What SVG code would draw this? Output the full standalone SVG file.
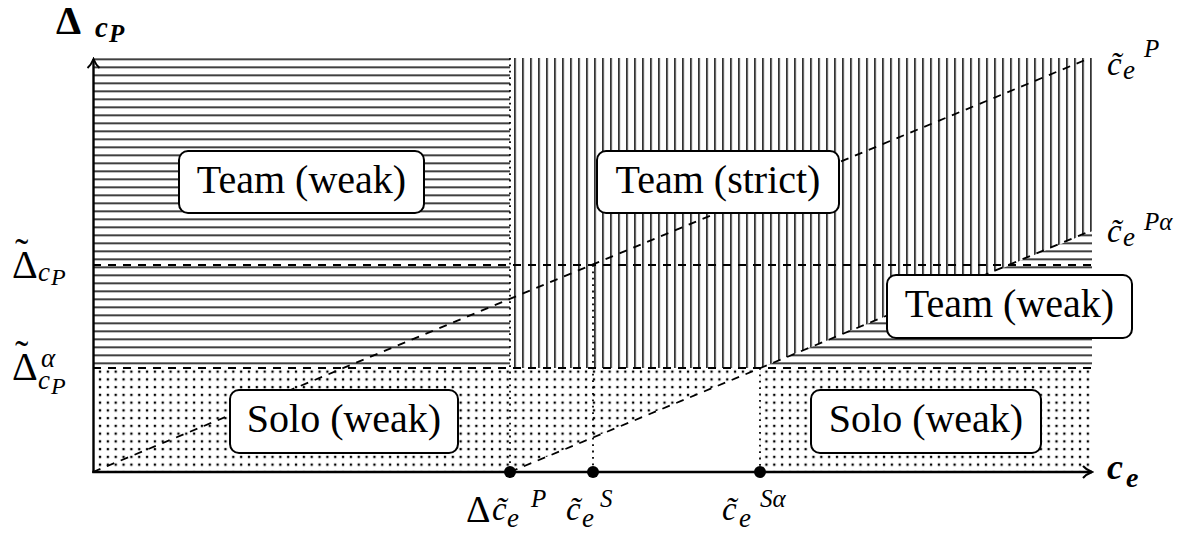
<svg xmlns="http://www.w3.org/2000/svg" width="1197" height="536" viewBox="0 0 1197 536">
<defs>
<pattern id="hl" patternUnits="userSpaceOnUse" x="0" y="58.5" width="20" height="8"><rect x="0" y="0" width="20" height="1.5" fill="#000"/></pattern>
<pattern id="vl" patternUnits="userSpaceOnUse" x="514.2" y="0" width="8" height="20"><rect x="0" y="0" width="1.5" height="20" fill="#000"/></pattern>
<pattern id="dots" patternUnits="userSpaceOnUse" x="96.08" y="367.7" width="7.84" height="7.75"><rect x="2.8" y="2.8" width="2.3" height="2.3" fill="#000"/></pattern>
<marker id="arr" markerUnits="userSpaceOnUse" viewBox="-12 -8 14 16" markerWidth="14" markerHeight="16" refX="0" refY="0" orient="auto"><path d="M-9,-6 C-6,-2.5 -2,-0.8 0,0 C-2,0.8 -6,2.5 -9,6" fill="none" stroke="#000" stroke-width="2"/></marker>
</defs>

<g id="regions">
<rect id="team-weak-left-area" x="93" y="58" width="417" height="310" fill="url(#hl)"/>
<path id="team-strict-area" d="M510,58 H1092 V231.2 L760,368 H510 Z" fill="url(#vl)"/>
<path id="team-weak-right-area" d="M760,368 L1092,231.2 V368 Z" fill="url(#hl)"/>
<path id="solo-area" d="M93,368 H1092 V472 H760 V368 L510,472 H93 Z" fill="url(#dots)"/>
</g>

<g id="connectors" fill="none" stroke="#000">
<g stroke-width="1.8" stroke-dasharray="8 7">
<line x1="93" y1="472" x2="1090" y2="58"/>
<line x1="510" y1="472" x2="1091" y2="230.8"/>
<line x1="93" y1="265" x2="1091" y2="265"/>
<line x1="93" y1="368" x2="1091" y2="368"/>
</g>
<g stroke-width="1.8" stroke-dasharray="1.8 4.6">
<line x1="510" y1="58" x2="510" y2="472"/>
<line x1="593" y1="265" x2="593" y2="472"/>
<line x1="760" y1="368" x2="760" y2="472"/>
</g>
<g stroke-width="2.4">
<line x1="93.5" y1="473" x2="93.5" y2="59" marker-end="url(#arr)"/>
<line x1="92.3" y1="472" x2="1092" y2="472" marker-end="url(#arr)"/>
</g>
</g>

<g font-family="Liberation Serif, serif" fill="#000">
<g font-size="40" text-anchor="middle">
<g id="node-team-weak-left"><rect x="179" y="151" width="245" height="62" rx="9" fill="#fff" stroke="#000" stroke-width="2"/><text x="301.5" y="193">Team (weak)</text></g>
<g id="node-team-strict"><rect x="597" y="151" width="242" height="62" rx="9" fill="#fff" stroke="#000" stroke-width="2"/><text x="718" y="193">Team (strict)</text></g>
<g id="node-team-weak-right"><rect x="887" y="275" width="245" height="63" rx="9" fill="#fff" stroke="#000" stroke-width="2"/><text x="1009.5" y="317">Team (weak)</text></g>
<g id="node-solo-weak-left"><rect x="230" y="390" width="228" height="63" rx="9" fill="#fff" stroke="#000" stroke-width="2"/><text x="344" y="432">Solo (weak)</text></g>
<g id="node-solo-weak-right"><rect x="811" y="390" width="230" height="63" rx="9" fill="#fff" stroke="#000" stroke-width="2"/><text x="926" y="432">Solo (weak)</text></g>
</g>

<g id="points">
<circle cx="510" cy="472" r="6"/>
<circle cx="593" cy="472" r="6"/>
<circle cx="760" cy="472" r="6"/>
</g>

<g id="axis-labels" font-weight="bold">
<text><tspan x="56" y="34" font-size="40">Δ</tspan><tspan font-style="italic" x="95" y="37" font-size="29">c</tspan><tspan font-style="italic" x="109" y="42" font-size="25">P</tspan></text>
<text font-style="italic"><tspan x="1107" y="479" font-size="36">c</tspan><tspan x="1126" y="487" font-size="28">e</tspan></text>
</g>

<g id="y-labels">
<text><tspan x="12" y="278" font-size="40">Δ</tspan><tspan x="15" y="266" font-size="40">˜</tspan><tspan font-style="italic" x="38" y="281" font-size="27">c</tspan><tspan font-style="italic" x="51" y="285" font-size="24">P</tspan></text>
<text><tspan x="12" y="380" font-size="40">Δ</tspan><tspan x="15" y="368" font-size="40">˜</tspan><tspan font-style="italic" x="41" y="367" font-size="27">α</tspan><tspan font-style="italic" x="38" y="389" font-size="27">c</tspan><tspan font-style="italic" x="51" y="394" font-size="24">P</tspan></text>
</g>

<g id="line-labels" font-style="italic">
<text><tspan x="1107" y="75" font-size="33">c̃</tspan><tspan x="1123" y="79" font-size="27">e</tspan><tspan x="1144" y="57" font-size="25">P</tspan></text>
<text><tspan x="1107" y="242" font-size="33">c̃</tspan><tspan x="1123" y="246" font-size="27">e</tspan><tspan x="1144" y="230" font-size="25">Pα</tspan></text>
</g>

<g id="x-labels" font-style="italic">
<text><tspan font-style="normal" x="466" y="522" font-size="38">Δ</tspan><tspan x="492" y="520" font-size="33">c̃</tspan><tspan x="507" y="527" font-size="27">e</tspan><tspan x="531" y="507" font-size="25">P</tspan></text>
<text><tspan x="566" y="520" font-size="33">c̃</tspan><tspan x="582" y="527" font-size="27">e</tspan><tspan x="600" y="507" font-size="25">S</tspan></text>
<text><tspan x="722" y="520" font-size="33">c̃</tspan><tspan x="739" y="527" font-size="27">e</tspan><tspan x="760" y="507" font-size="25">Sα</tspan></text>
</g>
</g>
</svg>
